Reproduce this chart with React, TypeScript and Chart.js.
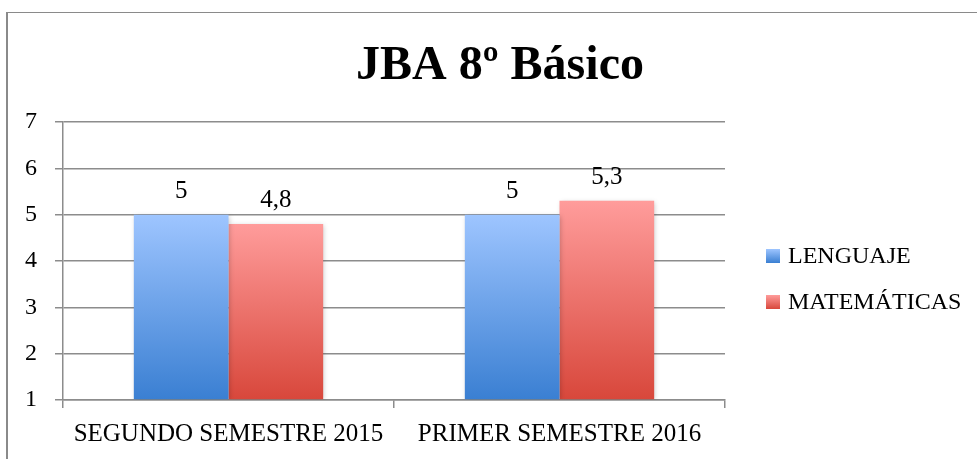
import React, { useEffect, useRef } from "react";
import { Chart, registerables } from "chart.js";

Chart.register(...registerables);

const TITLE = "JBA 8º Básico";
const CATEGORIES = ["SEGUNDO SEMESTRE 2015", "PRIMER SEMESTRE 2016"];
const SERIES_NAMES = ["LENGUAJE", "MATEMÁTICAS"];
const LENGUAJE = [5, 5];
const MATEMATICAS = [4.8, 5.3];
const Y_MIN = 1;
const Y_MAX = 7;

const FONT = "'Liberation Serif', 'Times New Roman', serif";
const GRADIENTS = [
  { top: "#9ec5ff", bottom: "#3a7fd2" },
  { top: "#ff9c9b", bottom: "#d8473b" },
];

function barGradient(ctx: any, idx: number) {
  const chart = ctx.chart;
  const y = chart.scales?.y;
  const c = GRADIENTS[idx];
  if (!y || ctx.parsed == null) return c.top;
  const top = y.getPixelForValue(ctx.parsed.y);
  const bottom = y.getPixelForValue(Y_MIN);
  if (!isFinite(top) || !isFinite(bottom) || top === bottom) return c.top;
  const g = chart.ctx.createLinearGradient(0, top, 0, bottom);
  g.addColorStop(0, c.top);
  g.addColorStop(1, c.bottom);
  return g;
}

const fmt = (v: number) => String(v).replace(".", ",");

const shadowPlugin = {
  id: "barShadow",
  beforeDatasetsDraw(chart: any) {
    const ctx = chart.ctx;
    ctx.save();
    ctx.shadowColor = "rgba(0,0,0,0.22)";
    ctx.shadowBlur = 5;
    ctx.shadowOffsetX = 1;
    ctx.shadowOffsetY = 1;
  },
  afterDatasetsDraw(chart: any) {
    chart.ctx.restore();
  },
};

const titlePlugin = {
  id: "customTitle",
  afterDraw(chart: any) {
    const ctx = chart.ctx;
    ctx.save();
    ctx.font = `bold 48px ${FONT}`;
    ctx.fillStyle = "#000";
    ctx.textAlign = "center";
    ctx.textBaseline = "alphabetic";
    ctx.fillText(TITLE, 500, 79);
    ctx.restore();
  },
};

const labelsPlugin = {
  id: "valueLabels",
  afterDraw(chart: any) {
    const ctx = chart.ctx;
    ctx.save();
    ctx.font = `25px ${FONT}`;
    ctx.fillStyle = "#000";
    ctx.textAlign = "center";
    ctx.textBaseline = "alphabetic";
    chart.data.datasets.forEach((ds: any, i: number) => {
      const meta = chart.getDatasetMeta(i);
      meta.data.forEach((el: any, j: number) => {
        ctx.fillText(fmt(ds.data[j]), el.x, el.y - 17);
      });
    });
    ctx.restore();
  },
};

const legendPlugin = {
  id: "customLegend",
  afterDraw(chart: any) {
    const ctx = chart.ctx;
    const x0 = chart.chartArea.right + 41;
    const rows = [256, 302];
    ctx.save();
    ctx.font = `24px ${FONT}`;
    ctx.textBaseline = "middle";
    ctx.textAlign = "left";
    SERIES_NAMES.forEach((name, i) => {
      const cy = rows[i];
      const g = ctx.createLinearGradient(0, cy - 7, 0, cy + 7);
      g.addColorStop(0, GRADIENTS[i].top);
      g.addColorStop(1, GRADIENTS[i].bottom);
      ctx.fillStyle = g;
      ctx.fillRect(x0, cy - 7, 14, 14);
      ctx.fillStyle = "#000";
      ctx.fillText(name, x0 + 22, cy + 1);
    });
    ctx.restore();
  },
};

export default function App() {
  const ref = useRef<HTMLCanvasElement>(null);
  useEffect(() => {
    if (!ref.current) return;
    const chart = new Chart(ref.current, {
      type: "bar",
      data: {
        labels: CATEGORIES,
        datasets: [
          {
            label: SERIES_NAMES[0],
            data: LENGUAJE,
            backgroundColor: (c: any) => barGradient(c, 0),
            borderWidth: 0,
            base: Y_MIN,
          },
          {
            label: SERIES_NAMES[1],
            data: MATEMATICAS,
            backgroundColor: (c: any) => barGradient(c, 1),
            borderWidth: 0,
            base: Y_MIN,
          },
        ],
      },
      options: {
        animation: false,
        responsive: false,
        devicePixelRatio: 1,
        layout: { padding: { left: 0, right: 252, top: 122, bottom: 0 } },
        datasets: {
          bar: { categoryPercentage: 0.572, barPercentage: 1 },
        },
        plugins: {
          legend: { display: false },
          tooltip: { enabled: false },
          title: { display: false },
        },
        scales: {
          x: {
            afterFit: (s: any) => {
              s.height = 59;
            },
            grid: {
              display: true,
              drawOnChartArea: false,
              drawTicks: true,
              tickLength: 8,
              color: "#8c8c8c",
              lineWidth: 1.5,
            },
            border: { display: true, color: "#8c8c8c", width: 1.5 },
            ticks: {
              color: "#000",
              font: { family: FONT, size: 25 },
              padding: 11,
              maxRotation: 0,
            },
          },
          y: {
            min: Y_MIN,
            max: Y_MAX,
            afterFit: (s: any) => {
              s.width = 63;
            },
            grid: {
              color: "#8c8c8c",
              lineWidth: 1.5,
              tickLength: 8,
              drawTicks: true,
            },
            border: { display: true, color: "#8c8c8c", width: 1.5 },
            ticks: {
              stepSize: 1,
              color: "#000",
              font: { family: FONT, size: 24 },
              padding: 18,
            },
          },
        },
      },
      plugins: [shadowPlugin, labelsPlugin, legendPlugin, titlePlugin],
    });
    return () => chart.destroy();
  }, []);

  return (
    <div
      style={{
        position: "fixed",
        left: 0,
        top: 0,
        width: 977,
        height: 459,
        background: "#fff",
        overflow: "hidden",
      }}
    >
      <div
        style={{
          position: "absolute",
          left: 6,
          top: 12,
          right: -10,
          bottom: -10,
          borderTop: "1.5px solid #8a8a8a",
          borderLeft: "2px solid #8a8a8a",
        }}
      />
      <canvas
        ref={ref}
        width={977}
        height={459}
        style={{ position: "absolute", left: 0, top: 0, width: 977, height: 459 }}
      />
    </div>
  );
}
